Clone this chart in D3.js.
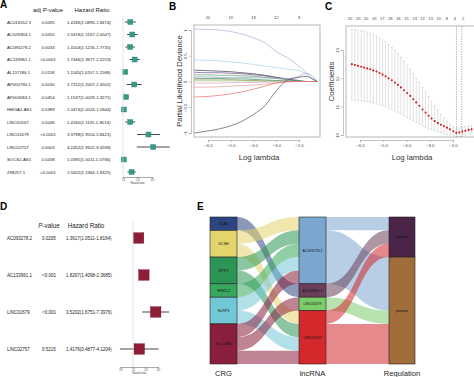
<!DOCTYPE html>
<html>
<head>
<meta charset="utf-8">
<script src="https://cdn.jsdelivr.net/npm/d3@7"></script>
<style>
body{margin:0;background:#fff}
svg{display:block;font-family:"Liberation Sans",Arial,sans-serif}
</style>
</head>
<body>
<svg id="fig" width="474" height="377"></svg>
<script>
// ---- panel A: univariate cox
const aGenes = ["AC016552.3","AC026904.1","AC093278.2","AC133961.1","AL157186.1","AP000790.1","AP003084.2","HMGA2-AS1","LINC00567","LINC01679","LINC02757","SOCS2-AS1","Z98257.1"];
const aPval = ["0.0095","0.0055","0.0033","<0.0001","0.0158","0.0030","0.0454","0.0389","0.0046","<0.0001","0.0003","0.0438","<0.0001"];
const aHR = [1.4186,1.5618,1.4104,1.7446,1.1145,1.7152,1.1537,1.0474,1.4160,3.3798,4.2452,1.0395,1.5052];
const aLow = [1.0893,1.2167,1.1216,1.3677,1.0207,1.2007,1.0029,1.0024,1.1135,1.9554,1.9322,1.0011,1.2364];
const aHigh = [1.8474,2.0047,1.7735,2.2253,1.2168,2.4502,1.3271,1.0944,1.8013,5.8421,9.3268,1.0794,1.8325];
const aTicks = [1,2,4];

// ---- panel D: multivariate cox
const dGenes = ["AC093278.2","AC133961.1","LINC01679","LINC02757"];
const dPval = ["0.0205","<0.001","<0.001","0.5215"];
const dHR = [1.3617,1.8267,3.5202,1.4176];
const dLow = [1.0511,1.4098,1.6751,0.4877];
const dHigh = [1.8164,2.3685,7.3976,4.1204];
const dTicks = [0.5,1,2,4];

// ---- panel B: lasso paths
const bLambda = [-6.6,-6,-5.5,-5,-4.5,-4,-3.5,-3,-2.5,-2,-1.7,-1.4,-1.2];
const bPaths = [
  [1.02,1.01,1.00,0.97,0.92,0.85,0.75,0.58,0.46,0.30,0.18,0.04,0],
  [0.42,0.41,0.40,0.38,0.36,0.33,0.30,0.27,0.24,0.21,0.15,0.05,0],
  [0.22,0.21,0.20,0.19,0.17,0.15,0.12,0.08,0.04,0.01,0,0,0],
  [0.18,0.17,0.17,0.16,0.15,0.13,0.11,0.08,0.05,0.02,0,0,0],
  [0.13,0.13,0.12,0.12,0.11,0.10,0.08,0.06,0.03,0.01,0,0,0],
  [0.09,0.09,0.08,0.08,0.08,0.07,0.07,0.06,0.06,0.10,0.16,0.10,0],
  [0.06,0.06,0.06,0.05,0.05,0.04,0.03,0.02,0.01,0,0,0,0],
  [0.03,0.03,0.03,0.03,0.02,0.02,0.01,0.01,0,0,0,0,0],
  [0.01,0.01,0.01,0.01,0.01,0,0,0,0,0,0,0,0],
  [-0.03,-0.03,-0.03,-0.02,-0.02,-0.02,-0.01,-0.01,0,0,0,0,0],
  [-0.11,-0.11,-0.10,-0.09,-0.08,-0.07,-0.05,-0.03,-0.01,0,0,0,0],
  [-0.30,-0.29,-0.27,-0.24,-0.20,-0.15,-0.09,-0.03,0,0,0,0,0],
  [-1.00,-0.96,-0.92,-0.86,-0.77,-0.64,-0.47,-0.18,0.03,0.08,0.10,0.05,0]
];
const bColors = ["#a3b0dd","#a9d3e6","#3b3b55","#6b4d8a","#5aa35a","#9f9bc9","#2f8f5f","#8b8b3a","#b8dca0","#d9a5c8","#e89a9a","#e36d6d","#505060"];
const bTopPos = [-6,-5,-4,-3,-2];
const bTopLabels = ["20","19","18","12","8"];

// ---- panel C: cross validation
const cLambda = [-6.35,-6.22,-6.09,-5.95,-5.82,-5.69,-5.56,-5.43,-5.29,-5.16,-5.03,-4.90,-4.77,-4.63,-4.50,-4.37,-4.24,-4.11,-3.97,-3.84,-3.71,-3.58,-3.45,-3.31,-3.18,-3.05,-2.92,-2.79,-2.65,-2.52,-2.39,-2.26,-2.13,-1.99,-1.86,-1.73,-1.60,-1.47,-1.33,-1.20];
const cMean = [12.50,12.47,12.44,12.41,12.38,12.35,12.32,12.28,12.24,12.19,12.13,12.07,12.00,11.93,11.85,11.77,11.68,11.58,11.48,11.38,11.26,11.15,11.03,10.90,10.79,10.68,10.58,10.49,10.42,10.36,10.31,10.26,10.20,10.13,10.08,10.09,10.12,10.15,10.18,10.20];
const cUpper = [13.73,13.72,13.70,13.68,13.66,13.63,13.59,13.54,13.49,13.43,13.36,13.28,13.19,13.09,12.98,12.87,12.74,12.61,12.47,12.32,12.17,12.01,11.85,11.68,11.52,11.36,11.19,11.03,10.88,10.73,10.60,10.48,10.38,10.30,10.25,10.25,10.27,10.29,10.31,10.33];
const cLower = [11.24,11.23,11.22,11.21,11.20,11.18,11.16,11.13,11.10,11.07,11.03,10.99,10.95,10.90,10.85,10.80,10.74,10.68,10.62,10.56,10.50,10.44,10.38,10.32,10.27,10.22,10.18,10.14,10.11,10.08,10.05,10.02,10.00,9.97,9.93,9.93,9.96,10.00,10.04,10.07];
const cTopPos = [-6.43,-6.08,-5.74,-5.39,-5.04,-4.70,-4.35,-4.00,-3.65,-3.31,-2.96,-2.61,-2.26,-1.92,-1.57];
const cTopLabels = ["20","20","20","19","17","18","16","15","13","12","13","10","8","4","2"];
const cVlines = [-1.85,-1.62];

// ---- panel E: sankey
const crgNames = ["DLAT","GCSH","MTF1","NFE2L2","NLRP3","SLC31A1"];
const lncNames = ["AC093278.2","AC133961.1","LINC01679","LINC02757"];
const regNames = ["negative","positive"];
const crgLnc = [["DLAT","AC133961.1"],["GCSH","AC093278.2"],["GCSH","LINC02757"],["MTF1","AC093278.2"],["MTF1","LINC02757"],["NFE2L2","AC093278.2"],["NLRP3","AC093278.2"],["NLRP3","LINC02757"],["SLC31A1","AC093278.2"],["SLC31A1","LINC01679"],["SLC31A1","LINC02757"]];
const lncReg = [["AC093278.2","negative",1],["AC093278.2","positive",4],["AC133961.1","negative",1],["LINC01679","positive",1],["LINC02757","negative",1],["LINC02757","positive",3]];
const crgColors = ["#2d4580","#e4d46c","#2c9556","#37a85d","#72c7d7","#8a1f3d"];
const lncColors = ["#7ba6cf","#6b3f5b","#7dcb6b","#d4282d"];
const regColors = ["#4a2547","#a06d3b"];

const svg = d3.select("#fig");

function panelLabel(t, x, y) {
  svg.append("text").attr("x", x).attr("y", y).attr("font-size", 10)
    .attr("font-weight", "bold").text(t);
}

// ========== forest plots (A and D) ==========
function forest(opt) {
  const g = svg.append("g");
  const y = d3.scalePoint().domain(opt.genes).range(opt.yRange);
  const x = d3.scaleLog().base(2).domain(opt.xDomain).range(opt.xRange);

  g.append("text").attr("x", opt.pvX).attr("y", opt.headY).attr("font-size", opt.headSize)
    .attr("text-anchor", "middle").attr("fill", "#222")
    .html(opt.pvHead);
  g.append("text").attr("x", opt.hrX).attr("y", opt.headY).attr("font-size", opt.headSize)
    .attr("text-anchor", "middle").attr("fill", "#222").text("Hazard Ratio");

  const row = g.selectAll(".row").data(opt.genes).enter().append("g")
    .attr("transform", d => "translate(0," + y(d) + ")");
  row.append("text").attr("x", opt.nameX).attr("dy", "0.35em")
    .attr("font-size", opt.rowSize).attr("fill", "#222").text(d => d);
  row.append("text").attr("x", opt.pvX).attr("dy", "0.35em").attr("text-anchor", "middle")
    .attr("font-size", opt.rowSize).attr("fill", "#222").text((d, i) => opt.pval[i]);
  row.append("text").attr("x", opt.hrTextX).attr("dy", "0.35em")
    .attr("font-size", opt.rowSize).attr("fill", "#222")
    .text((d, i) => opt.hr[i].toFixed(4) + "(" + opt.low[i].toFixed(4) + "-" + opt.high[i].toFixed(4) + ")");

  g.append("line").attr("x1", x(1)).attr("x2", x(1))
    .attr("y1", opt.vTop).attr("y2", opt.axisY).attr("stroke", "#d8d8d8").attr("stroke-width", 0.7);

  row.append("line").attr("x1", (d, i) => x(opt.low[i])).attr("x2", (d, i) => x(opt.high[i]))
    .attr("stroke", "#333").attr("stroke-width", 0.9);
  row.append("rect")
    .attr("x", (d, i) => x(opt.hr[i]) - opt.box / 2).attr("y", -opt.box / 2)
    .attr("width", opt.box).attr("height", opt.box)
    .attr("fill", opt.color).attr("stroke", d3.color(opt.color).darker(0.6)).attr("stroke-width", 0.4);

  const ax = g.append("g").attr("transform", "translate(0," + opt.axisY + ")")
    .call(d3.axisBottom(x).tickValues(opt.ticks).tickSize(1.5).tickPadding(1)
      .tickFormat(d3.format(".1f")));
  ax.select(".domain").attr("stroke", "#555").attr("stroke-width", 0.5);
  ax.selectAll(".tick line").attr("stroke", "#555").attr("stroke-width", 0.5);
  ax.selectAll("text").attr("font-size", 2.6).attr("fill", "#444");
  g.append("text").attr("x", (opt.xRange[0] + opt.xRange[1]) / 2).attr("y", opt.axisY + 7)
    .attr("text-anchor", "middle").attr("font-size", 2.6).attr("fill", "#444").text("Hazard ratio");
}

panelLabel("A", 0, 8);
forest({
  genes: aGenes, pval: aPval, hr: aHR, low: aLow, high: aHigh, ticks: aTicks,
  yRange: [22, 172], xDomain: [1, 4], xRange: [123, 152],
  nameX: 7, pvX: 48, hrX: 92, hrTextX: 67, headY: 12, headSize: 6, rowSize: 4.3,
  pvHead: "adj <tspan font-style='italic'>P</tspan>-value",
  vTop: 16, axisY: 177, box: 5, color: "#359c88"
});

panelLabel("D", 0, 210);
forest({
  genes: dGenes, pval: dPval, hr: dHR, low: dLow, high: dHigh, ticks: dTicks,
  yRange: [238, 349], xDomain: [0.5, 4], xRange: [120.5, 158],
  nameX: 7, pvX: 49, hrX: 86, hrTextX: 66, headY: 228, headSize: 6.3, rowSize: 4.5,
  pvHead: "<tspan font-style='italic'>P</tspan>-value",
  vTop: 221, axisY: 367, box: 10.5, color: "#8e1d38"
});

// ========== panel B ==========
function baseAxes(g, x, y, box, yTicks, xLabel, yLabel, topPos, topLabels) {
  g.append("rect").attr("x", box.l).attr("y", box.t).attr("width", box.r - box.l).attr("height", box.b - box.t)
    .attr("fill", "none").attr("stroke", "#999").attr("stroke-width", 0.7);
  const xa = g.append("g").attr("transform", "translate(0," + (box.b + 3) + ")")
    .call(d3.axisBottom(x).tickValues([-6, -5, -4, -3, -2]).tickSize(2).tickPadding(2));
  const ya = g.append("g").attr("transform", "translate(" + (box.l - 3) + ",0)")
    .call(d3.axisLeft(y).tickValues(yTicks).tickSize(2).tickFormat(d3.format("")));
  [xa, ya].forEach(a => {
    a.select(".domain").attr("stroke", "#888").attr("stroke-width", 0.5);
    a.selectAll(".tick line").attr("stroke", "#888").attr("stroke-width", 0.5);
    a.selectAll("text").attr("font-size", 4.3).attr("fill", "#444");
  });
  ya.selectAll("text").attr("x", 0).attr("y", -4).attr("dy", 0)
    .attr("text-anchor", "middle").attr("transform", "rotate(-90)");
  g.selectAll(".toplab").data(topPos).enter().append("text")
    .attr("x", d => x(d)).attr("y", box.t - 6).attr("text-anchor", "middle")
    .attr("font-size", 4).attr("fill", "#444").text((d, i) => topLabels[i]);
  g.append("text").attr("x", (box.l + Math.min(box.r, 474)) / 2 + 2).attr("y", 160)
    .attr("text-anchor", "middle").attr("font-size", 7.8).attr("fill", "#333").text(xLabel);
  g.append("text").attr("transform", "translate(" + (box.l - 12) + "," + ((box.t + box.b) / 2) + ") rotate(-90)")
    .attr("text-anchor", "middle").attr("font-size", 7.6).attr("fill", "#333").text(yLabel);
}

panelLabel("B", 169, 10);
{
  const box = {l: 194, t: 25, r: 320, b: 137};
  const x = d3.scaleLinear().domain([-6, -2]).range([208, 299]);
  const y = d3.scaleLinear().domain([-1, 1]).range([133, 30]);
  const g = svg.append("g");
  svg.append("clipPath").attr("id", "clipB").append("rect")
    .attr("x", box.l).attr("y", box.t).attr("width", box.r - box.l).attr("height", box.b - box.t);
  g.append("rect").attr("x", box.l).attr("y", box.t).attr("width", box.r - box.l).attr("height", box.b - box.t).attr("fill", "#fff");
  const line = d3.line().x((d, i) => x(bLambda[i])).y(d => y(d)).curve(d3.curveMonotoneX);
  g.append("g").attr("clip-path", "url(#clipB)").selectAll("path").data(bPaths).enter().append("path")
    .attr("d", line).attr("fill", "none").attr("stroke", (d, i) => bColors[i]).attr("stroke-width", 0.7);
  baseAxes(g, x, y, box, [-1, -0.5, 0, 0.5, 1], "Log lambda", "Partial Likelihood Deviance", bTopPos, bTopLabels);
}

// ========== panel C ==========
panelLabel("C", 325, 10);
{
  const box = {l: 346, t: 26, r: 480, b: 137};
  const x = d3.scaleLinear().domain([-6, -2]).range([360, 453]);
  const y = d3.scaleLinear().domain([10, 13]).range([135, 50]);
  const g = svg.append("g");
  const eb = g.selectAll(".eb").data(cLambda).enter().append("g");
  eb.append("line").attr("x1", d => x(d)).attr("x2", d => x(d))
    .attr("y1", (d, i) => y(cUpper[i])).attr("y2", (d, i) => y(cLower[i]))
    .attr("stroke", "#c4c4c4").attr("stroke-width", 0.5);
  eb.append("line").attr("x1", d => x(d) - 1).attr("x2", d => x(d) + 1)
    .attr("y1", (d, i) => y(cUpper[i])).attr("y2", (d, i) => y(cUpper[i]))
    .attr("stroke", "#bbb").attr("stroke-width", 0.5);
  eb.append("line").attr("x1", d => x(d) - 1).attr("x2", d => x(d) + 1)
    .attr("y1", (d, i) => y(cLower[i])).attr("y2", (d, i) => y(cLower[i]))
    .attr("stroke", "#bbb").attr("stroke-width", 0.5);
  g.selectAll(".vl").data(cVlines).enter().append("line")
    .attr("x1", d => x(d)).attr("x2", d => x(d)).attr("y1", box.t).attr("y2", box.b)
    .attr("stroke", "#777").attr("stroke-width", 0.5).attr("stroke-dasharray", "1.5,1");
  eb.append("circle").attr("cx", d => x(d)).attr("cy", (d, i) => y(cMean[i])).attr("r", 1.05)
    .attr("fill", "#d7191c");
  baseAxes(g, x, y, box, [10, 11, 12, 13], "Log lambda", "Coefficients", cTopPos, cTopLabels);
}

// ========== panel E ==========
panelLabel("E", 197, 210);
{
  const g = svg.append("g");
  const yU = d3.scaleLinear().domain([0, crgLnc.length]).range([217, 364]);
  const cols = [{x0: 210, x1: 237}, {x0: 299, x1: 326}, {x0: 389, x1: 415}];

  function stack(names, counts) {
    let c = 0; const m = {};
    names.forEach(n => { m[n] = {start: c, n: counts[n] || 0}; c += counts[n] || 0; });
    return m;
  }
  const crgCount = {}, lncCount = {}, regCount = {};
  crgLnc.forEach(([a, b]) => { crgCount[a] = (crgCount[a] || 0) + 1; lncCount[b] = (lncCount[b] || 0) + 1; });
  lncReg.forEach(([a, b, n]) => { regCount[b] = (regCount[b] || 0) + n; });
  const crgN = stack(crgNames, crgCount), lncN = stack(lncNames, lncCount), regN = stack(regNames, regCount);

  function band(xa, ya0, ya1, xb, yb0, yb1) {
    const p = d3.path(), xm = (xa + xb) / 2;
    p.moveTo(xa, ya0);
    p.bezierCurveTo(xm, ya0, xm, yb0, xb, yb0);
    p.lineTo(xb, yb1);
    p.bezierCurveTo(xm, yb1, xm, ya1, xa, ya1);
    p.closePath();
    return p.toString();
  }

  // left flows: source order by target, target order by source
  const left = crgLnc.map(([a, b]) => ({a, b, n: 1}));
  const srcOff = {}, tgtOff = {};
  left.slice().sort((p, q) => crgNames.indexOf(p.a) - crgNames.indexOf(q.a) || lncNames.indexOf(p.b) - lncNames.indexOf(q.b))
    .forEach(l => { srcOff[l.a] = srcOff[l.a] || 0; l.s = crgN[l.a].start + srcOff[l.a]; srcOff[l.a] += l.n; });
  left.slice().sort((p, q) => lncNames.indexOf(p.b) - lncNames.indexOf(q.b) || crgNames.indexOf(p.a) - crgNames.indexOf(q.a))
    .forEach(l => { tgtOff[l.b] = tgtOff[l.b] || 0; l.t = lncN[l.b].start + tgtOff[l.b]; tgtOff[l.b] += l.n; });

  const right = lncReg.map(([a, b, n]) => ({a, b, n}));
  const so2 = {}, to2 = {};
  right.slice().sort((p, q) => lncNames.indexOf(p.a) - lncNames.indexOf(q.a) || regNames.indexOf(p.b) - regNames.indexOf(q.b))
    .forEach(l => { so2[l.a] = so2[l.a] || 0; l.s = lncN[l.a].start + so2[l.a]; so2[l.a] += l.n; });
  right.slice().sort((p, q) => regNames.indexOf(p.b) - regNames.indexOf(q.b) || lncNames.indexOf(p.a) - lncNames.indexOf(q.a))
    .forEach(l => { to2[l.b] = to2[l.b] || 0; l.t = regN[l.b].start + to2[l.b]; to2[l.b] += l.n; });

  g.selectAll(".lf").data(left).enter().append("path")
    .attr("d", l => band(cols[0].x1, yU(l.s), yU(l.s + l.n), cols[1].x0, yU(l.t), yU(l.t + l.n)))
    .attr("fill", l => crgColors[crgNames.indexOf(l.a)]).attr("fill-opacity", 0.55);
  g.selectAll(".rf").data(right).enter().append("path")
    .attr("d", l => band(cols[1].x1, yU(l.s), yU(l.s + l.n), cols[2].x0, yU(l.t), yU(l.t + l.n)))
    .attr("fill", l => lncColors[lncNames.indexOf(l.a)]).attr("fill-opacity", 0.55);

  function nodes(names, m, colors, col) {
    const ng = g.selectAll(null).data(names).enter().append("g");
    ng.append("rect").attr("x", col.x0).attr("width", col.x1 - col.x0)
      .attr("y", d => yU(m[d].start)).attr("height", d => yU(m[d].start + m[d].n) - yU(m[d].start))
      .attr("fill", (d, i) => colors[i]).attr("stroke", "#222").attr("stroke-width", 0.6);
    ng.append("text").attr("x", (col.x0 + col.x1) / 2).attr("y", d => yU(m[d].start + m[d].n / 2))
      .attr("dy", "0.35em").attr("text-anchor", "middle").attr("font-size", 3.6).attr("fill", "#111").text(d => d);
  }
  nodes(crgNames, crgN, crgColors, cols[0]);
  nodes(lncNames, lncN, lncColors, cols[1]);
  nodes(regNames, regN, regColors, cols[2]);

  const titles = ["CRG", "lncRNA", "Regulation"];
  g.selectAll(".ct").data(titles).enter().append("text")
    .attr("x", (d, i) => (cols[i].x0 + cols[i].x1) / 2).attr("y", 376)
    .attr("text-anchor", "middle").attr("font-size", 7.6).attr("fill", "#222").text(d => d);
}
</script>
</body>
</html>
